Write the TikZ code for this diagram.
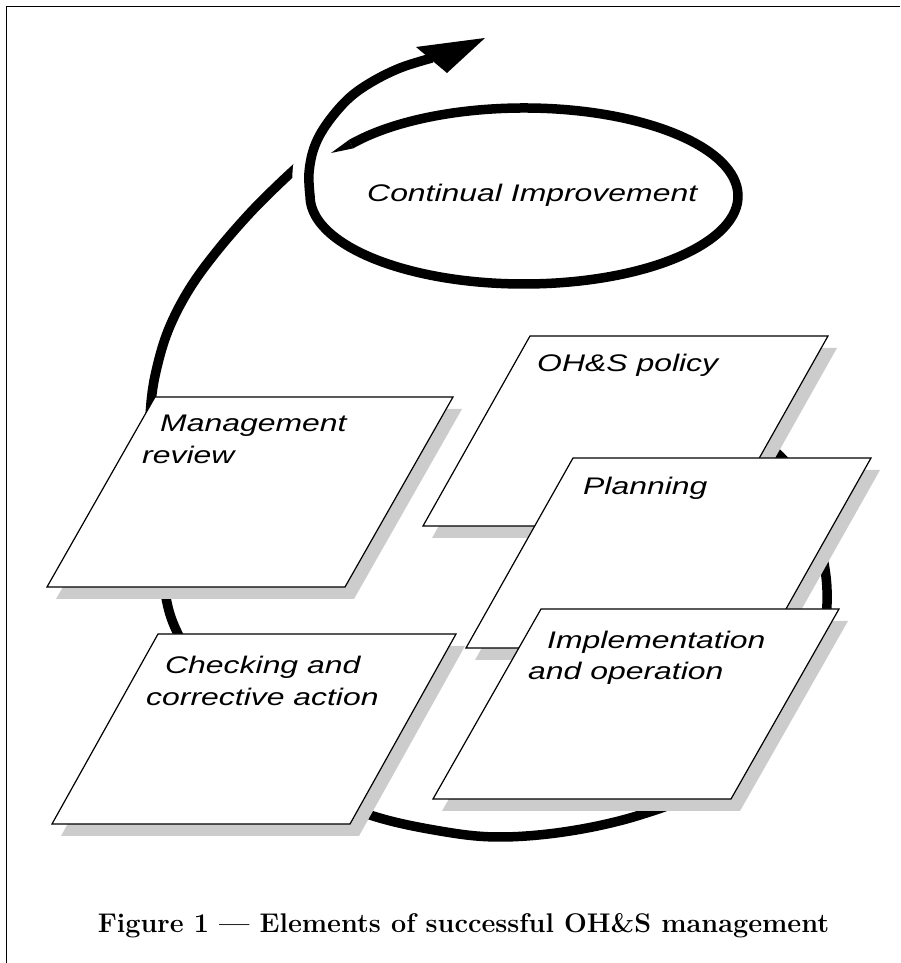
\documentclass[tikz,border=0pt]{standalone}
\usepackage{fontspec}
\newfontfamily\panelfont[FakeStretch=1.33]{Liberation Sans}

\tikzset{
  band/.style={line width=9.5pt, line cap=butt, line join=round},
  gap/.style={draw=white, line width=33pt, line cap=butt},
  panelface/.style={fill=white, draw=black, line width=1.2pt, line join=miter},
  panelshadow/.style={fill=black!20},
  paneltext/.style={anchor=base west, inner sep=0pt,
    font=\panelfont\itshape\fontsize{24}{28}\selectfont},
  captiontext/.style={anchor=base, inner sep=0pt,
    font=\bfseries\fontsize{27}{31}\selectfont},
}

% one slanted card with its drop shadow: #1,#2 lower left corner, #3 slant
\newcommand\card[3]{%
  \begin{scope}[shift={(#1,#2)}]
    \fill[panelshadow] (9,-12) -- (307,-12) -- (307+#3,178) -- (9+#3,178) -- cycle;
    \draw[panelface] (0,0) -- (298,0) -- (298+#3,190) -- (#3,190) -- cycle;
  \end{scope}}

\begin{document}
\begin{tikzpicture}[x=1pt, y=1pt]
\useasboundingbox (0,0) rectangle (900,963);

% the large cycle, running down the right, along the bottom and up the left
\draw[band] plot[smooth, tension=0.6] coordinates {
  (700,568) (782,505) (810,453) (827,373) (814,303) (760,223) (700,173)
  (640,148) (570,132) (500,126) (440,132) (370,148) (300,178) (230,243)
  (178,329) (163,380) (152,440) (149,500) (151,560) (158,600) (170,637)
  (190,675) (217,712) (250,750) (280,780) (305,803)};

% break in the incoming band where the loop passes over it
\draw[gap] plot[smooth, tension=0.6] coordinates {
  (310,767) (309,790) (314,815) (326,838) (347,863)};

% the improvement loop, starting from a tapered tip
\coordinate (tip) at (331,810);
\fill (tip) -- (348.6,822.8) -- (353.2,814.6) -- cycle;
\draw[band]
  (524,767) ++(144:214 and 88)
  arc[start angle=144, end angle=-180, x radius=214, y radius=88]
  -- plot[smooth, tension=0.6] coordinates {
  (310,767) (309,790) (314,815) (326,838) (347,863) (370,880) (400,895)
  (432,905)};

% head of the rising arrow
\fill (416,916) -- (485,925) -- (447,890) -- cycle;

\node[paneltext] (ci) at (367,761) {Continual Improvement};

% the five element cards
\card{47}{376}{108}
\card{52}{139}{106}
\card{423}{437}{107}
\card{466}{315}{107}
\card{433}{164}{108}

\node[paneltext] (mr1) at (160,531) {Management};
\node[paneltext] (mr2) at (142,499) {review};
\node[paneltext] (ca1) at (165,289) {Checking and};
\node[paneltext] (ca2) at (146,257) {corrective action};
\node[paneltext] (pol) at (537,591) {OH\&S policy};
\node[paneltext] (pla) at (583,468) {Planning};
\node[paneltext] (io1) at (547,314) {Implementation};
\node[paneltext] (io2) at (528,283) {and operation};

\node[captiontext] (cap) at (463.5,30) {Figure 1 --- Elements of successful OH\&S management};

% frame
\draw[line width=1.5pt] (6.5,0) -- (6.5,956.5) -- (900,956.5);
\end{tikzpicture}
\end{document}
